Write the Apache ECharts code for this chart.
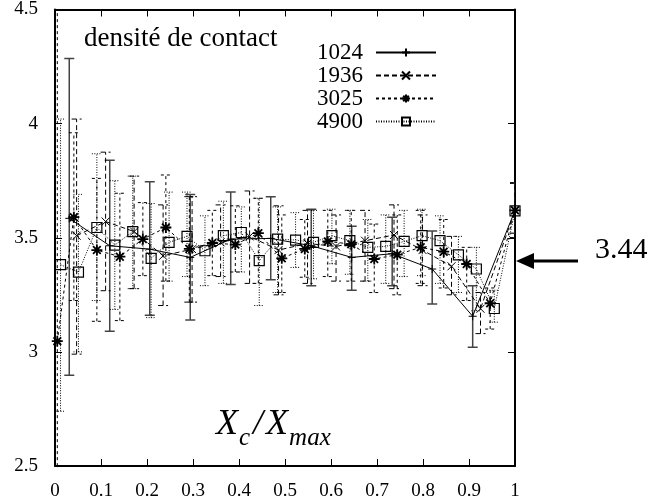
<!DOCTYPE html>
<html><head><meta charset="utf-8">
<script src="https://cdn.jsdelivr.net/npm/echarts@6/dist/echarts.min.js"></script>
<style>html,body{margin:0;padding:0;background:#fff}#c{width:652px;height:503px}</style>
</head><body><div id="c"></div>
<script>
// ---- data ----
var xTicks = [0,0.1,0.2,0.3,0.4,0.5,0.6,0.7,0.8,0.9,1];
var yTicks = [2.5,3,3.5,4,4.5];
var names = ['1024','1936','3025','4900'];

var x1024 = [0.031,0.119,0.206,0.294,0.382,0.469,0.557,0.645,0.733,0.820,0.908,1.0];
var y1024 = [3.585,3.465,3.45,3.414,3.494,3.497,3.465,3.414,3.43,3.363,3.156,3.62];
var lo1024 = [2.898,3.09,3.16,3.14,3.295,3.316,3.29,3.27,3.29,3.21,3.02,3.52];
var hi1024 = [4.285,3.84,3.745,3.69,3.70,3.68,3.625,3.55,3.59,3.53,3.29,3.74];

var x1936 = [0.047,0.110,0.172,0.235,0.298,0.360,0.423,0.486,0.549,0.611,0.674,0.737,0.799,0.862,0.925,1.0];
var y1936 = [3.509,3.571,3.527,3.421,3.45,3.48,3.506,3.446,3.475,3.462,3.487,3.512,3.446,3.375,3.189,3.62];
var lo1936 = [2.99,3.268,3.277,3.203,3.218,3.33,3.30,3.25,3.30,3.31,3.31,3.277,3.29,3.25,3.08,3.5];
var hi1936 = [4.02,3.875,3.77,3.644,3.68,3.644,3.705,3.64,3.62,3.60,3.62,3.644,3.60,3.506,3.26,3.74];

var x3025 = [0.005,0.041,0.091,0.141,0.191,0.241,0.292,0.342,0.392,0.442,0.493,0.543,0.593,0.644,0.694,0.744,0.795,0.845,0.895,0.946,1.0];
var y3025 = [3.047,3.59,3.446,3.417,3.494,3.545,3.451,3.477,3.47,3.52,3.41,3.451,3.484,3.472,3.407,3.426,3.458,3.439,3.385,3.213,3.62];
var lo3025 = [2.0,3.225,3.134,3.137,3.334,3.31,3.218,3.334,3.35,3.30,3.26,3.327,3.33,3.31,3.26,3.25,3.30,3.28,3.225,3.10,3.5];
var hi3025 = [4.6,3.96,3.76,3.695,3.654,3.775,3.68,3.62,3.64,3.673,3.60,3.58,3.62,3.62,3.56,3.60,3.62,3.58,3.458,3.28,3.74];

var x4900 = [0.012,0.051,0.091,0.130,0.169,0.209,0.248,0.287,0.326,0.366,0.405,0.444,0.484,0.523,0.562,0.602,0.641,0.680,0.719,0.759,0.798,0.837,0.877,0.916,0.955,1.0];
var y4900 = [3.382,3.349,3.545,3.468,3.527,3.41,3.48,3.506,3.443,3.509,3.523,3.40,3.494,3.49,3.48,3.509,3.487,3.458,3.462,3.484,3.509,3.487,3.425,3.363,3.19,3.618];
var lo4900 = [2.74,3.0,3.225,3.186,3.277,3.15,3.31,3.33,3.29,3.30,3.35,3.203,3.26,3.37,3.32,3.386,3.34,3.31,3.30,3.33,3.334,3.30,3.26,3.18,3.13,3.5];
var hi4900 = [4.02,3.69,3.868,3.75,3.77,3.65,3.70,3.70,3.596,3.66,3.635,3.673,3.635,3.61,3.62,3.625,3.62,3.58,3.60,3.62,3.625,3.596,3.506,3.458,3.27,3.74];

var arrowLabel = '3.44';
// ---- build ----
var FONT = 'Liberation Serif';
function pts(xs, ys){ return xs.map(function(x,i){return [x, ys[i]];}); }
function bars(xs, ys, lo, hi){ return xs.map(function(x,i){return [x, ys[i], lo[i], hi[i]];}); }

var sets = [
  {name:'1024', x:x1024, y:y1024, lo:lo1024, hi:hi1024, dash:'solid', barColor:'#444', barW:1.5, barDash:null,
   symbol:'path://M0,5L10,5M5,0L5,10', size:8, bw:1},
  {name:'1936', x:x1936, y:y1936, lo:lo1936, hi:hi1936, dash:[5,3], barColor:'#000', barW:1, barDash:[5,3],
   symbol:'path://M0,0L10,10M10,0L0,10', size:8, bw:1},
  {name:'3025', x:x3025, y:y3025, lo:lo3025, hi:hi3025, dash:[3,3], barColor:'#000', barW:1, barDash:[3,3],
   symbol:'path://M5,0L5,10M0,5L10,5M1.5,1.5L8.5,8.5M8.5,1.5L1.5,8.5', size:11, bw:1.8},
  {name:'4900', x:x4900, y:y4900, lo:lo4900, hi:hi4900, dash:[1,1.5], barColor:'#000', barW:1, barDash:[1,1.5],
   symbol:'path://M0,0L10,0L10,10L0,10Z', size:10, bw:1.2}
];

var series = [];
sets.forEach(function(s){
  series.push({
    type:'custom', name:s.name+'_err', clip:true, silent:true,
    data: bars(s.x, s.y, s.lo, s.hi),
    encode:{x:0, y:1},
    renderItem: function(params, api){
      var x=api.value(0), lo=api.value(2), hi=api.value(3);
      var a=api.coord([x,lo]), b=api.coord([x,hi]);
      var w=5;
      var st={stroke:s.barColor, lineWidth:s.barW, lineDash:s.barDash};
      return {type:'group', children:[
        {type:'line', shape:{x1:a[0],y1:a[1],x2:b[0],y2:b[1]}, style:st},
        {type:'line', shape:{x1:a[0]-w,y1:a[1],x2:a[0]+w,y2:a[1]}, style:st},
        {type:'line', shape:{x1:b[0]-w,y1:b[1],x2:b[0]+w,y2:b[1]}, style:st}
      ]};
    },
    z:2
  });
  series.push({
    type:'line', name:s.name, data:pts(s.x, s.y),
    symbol:s.symbol, symbolSize:s.size, showSymbol:true, showAllSymbol:true,
    itemStyle:{color:'rgba(255,255,255,0)', borderColor:'#000', borderWidth:s.bw},
    lineStyle:{color:'#000', width:1, type:s.dash},
    emphasis:{disabled:true}, animation:false, z:3
  });
});

var axisCommon = {
  axisLine:{show:true, onZero:false, lineStyle:{color:'#000', width:2}},
  axisTick:{show:true, inside:true, length:7, lineStyle:{color:'#000', width:1}},
  splitLine:{show:false}
};

var chart = echarts.init(document.getElementById('c'), null, {renderer:'canvas'});
chart.setOption({
  animation:false,
  backgroundColor:'#fff',
  title:{text:'densité de contact', left:79, top:20,
    textStyle:{fontFamily:FONT, fontWeight:'normal', fontSize:27, color:'#000'}},
  legend:{
    data:names, orient:'vertical', align:'right', left:317, top:41,
    itemWidth:60, itemHeight:10, itemGap:0, padding:0,
    textStyle:{fontFamily:FONT, fontSize:23, lineHeight:22, color:'#000', padding:[0,8,0,0]}
  },
  grid:{left:55, right:137, top:8, bottom:37},
  xAxis:[
    Object.assign({type:'value', min:0, max:1, interval:0.1, position:'bottom',
      axisLabel:{fontFamily:FONT, fontSize:19, color:'#000', margin:16,
        formatter:function(v){ var i=Math.round(v*10); return String(xTicks[i]); }}}, axisCommon),
    Object.assign({type:'value', min:0, max:1, interval:0.1, position:'top', axisLabel:{show:false}}, axisCommon)
  ],
  yAxis:[
    Object.assign({type:'value', min:2.5, max:4.5, interval:0.5, position:'left',
      axisLabel:{fontFamily:FONT, fontSize:19, color:'#000', margin:17,
        formatter:function(v){ var i=Math.round((v-2.5)*2); return String(yTicks[i]); }}}, axisCommon),
    Object.assign({type:'value', min:2.5, max:4.5, interval:0.5, position:'right', axisLabel:{show:false}}, axisCommon)
  ],
  series:series,
  graphic:[
    {type:'text', left:216, top:407, silent:true,
     style:{text:'{a|X}{s|c}{g|/}{a|X}{s|max}', rich:{
       a:{fontFamily:FONT, fontStyle:'italic', fontSize:36, color:'#000', verticalAlign:'bottom', lineHeight:36, padding:[0,1,0,0]},
       g:{fontFamily:FONT, fontStyle:'italic', fontSize:36, color:'#000', verticalAlign:'bottom', lineHeight:36, padding:[0,3,0,3]},
       s:{fontFamily:FONT, fontStyle:'italic', fontSize:25, color:'#000', verticalAlign:'bottom', lineHeight:26, padding:[0,0,-8,0]}
     }}},
    {type:'line', shape:{x1:530, y1:261, x2:578, y2:261}, style:{stroke:'#000', lineWidth:3}},
    {type:'polygon', shape:{points:[[516,261],[534,253],[534,269]]}, style:{fill:'#000'}},
    {type:'text', left:595, top:235, style:{text:arrowLabel, fontFamily:FONT, fontSize:30, fill:'#000'}}
  ]
});
</script></body></html>
